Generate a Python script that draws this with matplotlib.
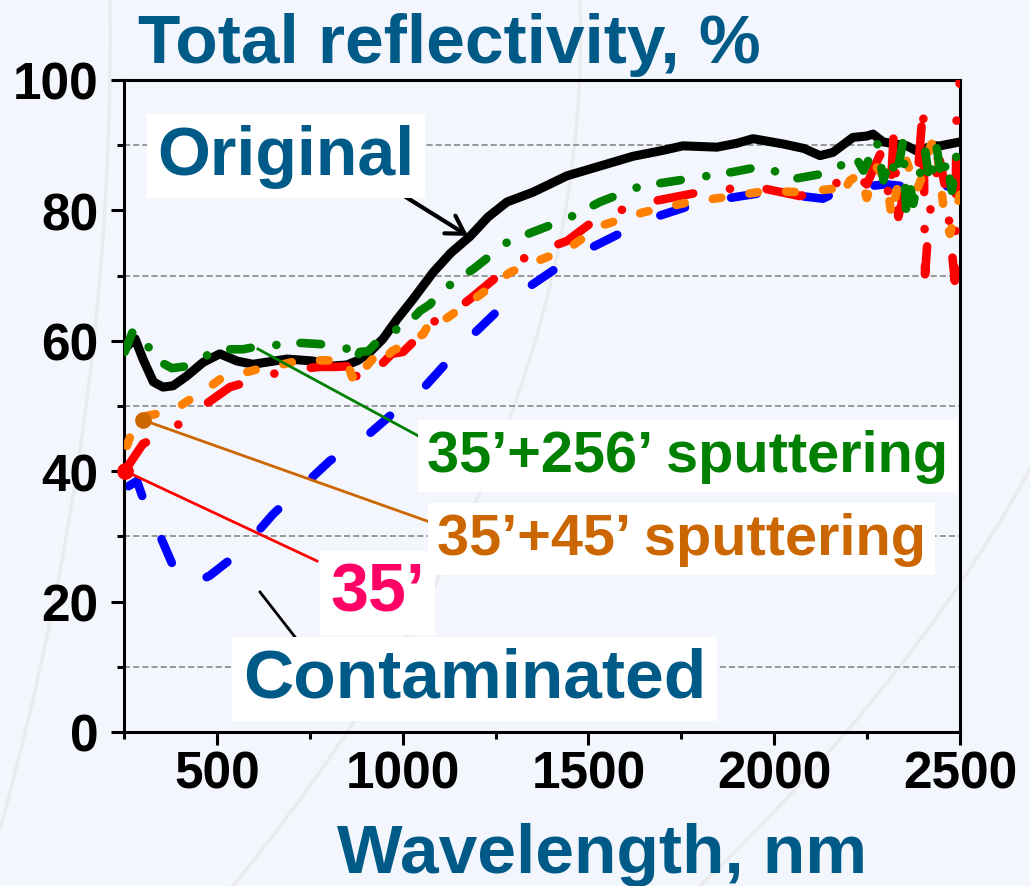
import numpy as np
import matplotlib
matplotlib.use('Agg')
import matplotlib.pyplot as plt
from matplotlib.ticker import MultipleLocator

# --- data ---
orig_x = [250, 265, 280, 301, 329, 355, 382, 419, 463, 508, 554, 597, 689, 759, 804, 850, 880,
          912, 947, 985, 1028, 1082, 1130, 1181, 1230, 1281, 1351, 1442, 1531, 1620, 1700, 1754,
          1846, 1900, 1943, 2023, 2080, 2123, 2158, 2212, 2249, 2266, 2293, 2357, 2384, 2427,
          2446, 2500]
orig_y = [58.7, 59.5, 60.3, 57.2, 53.7, 52.9, 53.1, 54.6, 56.7, 58.0, 56.9, 56.4, 57.2, 56.9,
          56.1, 56.3, 57.0, 58.3, 60.3, 63.3, 66.4, 70.5, 73.5, 76.0, 79.0, 81.3, 82.8, 85.3,
          86.8, 88.3, 89.2, 89.9, 89.7, 90.3, 91.0, 90.2, 89.5, 88.4, 88.9, 91.2, 91.4, 91.7,
          90.5, 89.9, 89.1, 89.9, 89.9, 90.5]

s256_x = [252, 274, 298, 333, 379, 419, 481, 525, 570, 616, 670, 716, 777, 813, 858, 872, 885,
          907, 939, 966, 998, 1020, 1047, 1074, 1100, 1190, 1281, 1351, 1442, 1531, 1639, 1765,
          1889, 1970, 2050, 2158, 2195, 2217, 2240, 2267, 2276, 2294, 2312, 2329, 2347, 2356,
          2365, 2374, 2392, 2406, 2419, 2437, 2451, 2464, 2478, 2491, 2500]
s256_y = [58.3, 61.5, 61.0, 57.2, 55.8, 56.1, 58.0, 58.7, 58.7, 59.2, 59.4, 59.7, 59.5, 59.2,
          58.7, 56.9, 58.3, 58.4, 60.3, 61.3, 62.1, 63.0, 64.6, 65.6, 67.5, 71.0, 75.1, 76.7,
          78.7, 81.3, 83.7, 84.8, 85.9, 86.8, 84.8, 85.9, 87.6, 88.4, 86.1, 89.2, 90.7, 84.6,
          88.1, 85.1, 90.7, 78.7, 84.0, 81.0, 85.6, 89.2, 84.1, 89.7, 84.6, 87.6, 83.0, 88.6,
          85.6]

s45_x = [258, 271, 298, 312, 339, 387, 422, 473, 508, 557, 594, 643, 678, 724, 772, 804, 850,
         864, 877, 893, 904, 931, 944, 971, 998, 1028, 1055, 1068, 1074, 1101, 1127, 1154, 1181,
         1289, 1351, 1442, 1531, 1647, 1765, 1889, 1980, 2069, 2158, 2177, 2204, 2231, 2249,
         2276, 2303, 2316, 2329, 2356, 2383, 2401, 2419, 2433, 2446, 2460, 2473, 2486, 2500]
s45_y = [43.9, 46.0, 47.9, 48.5, 48.8, 49.5, 50.8, 52.6, 54.1, 54.9, 55.4, 56.2, 56.4, 57.0,
         57.0, 57.0, 57.0, 54.4, 54.9, 57.2, 56.2, 58.0, 56.7, 58.4, 59.2, 60.3, 61.0, 62.3,
         63.3, 62.8, 63.8, 64.9, 65.9, 70.5, 72.0, 74.0, 77.6, 79.7, 81.2, 82.2, 83.0, 82.8,
         83.3, 81.9, 84.6, 85.6, 81.9, 86.6, 84.6, 78.9, 83.0, 87.6, 83.0, 85.6, 89.7, 91.2,
         85.1, 78.4, 76.4, 79.4, 82.4]

s35_x = [252, 261, 301, 374, 441, 535, 608, 678, 777, 823, 850, 864, 880, 893, 931, 971, 1001,
         1028, 1065, 1074, 1106, 1135, 1181, 1289, 1351, 1442, 1531, 1656, 1800, 1943, 2069,
         2158, 2204, 2249, 2285, 2312, 2321, 2334, 2356, 2370, 2388, 2401, 2406, 2415, 2428,
         2446, 2464, 2478, 2486, 2491, 2500]
s35_y = [40.0, 40.8, 44.2, 46.2, 49.1, 52.9, 54.1, 55.4, 56.0, 56.0, 56.1, 52.6, 55.4, 56.4,
         55.7, 58.0, 58.3, 59.8, 60.3, 62.8, 63.3, 64.4, 66.4, 71.5, 73.4, 75.3, 79.1, 81.2,
         82.8, 83.7, 82.2, 83.7, 86.1, 84.0, 88.6, 81.4, 91.2, 79.0, 84.1, 80.5, 86.6, 96.3,
         70.2, 77.3, 84.1, 87.6, 82.5, 73.8, 69.2, 94.8, 99.9]

cont_x = [262, 285, 302, 347, 382, 430, 481, 562, 651, 729, 804, 885, 966, 1041, 1127, 1190,
          1270, 1343, 1431, 1512, 1593, 1665, 1800, 1980, 2131, 2185, 2300, 2419, 2500]
cont_y = [37.7, 38.5, 35.7, 30.1, 25.5, 22.5, 24.0, 27.6, 33.4, 37.6, 41.6, 44.5, 48.5, 51.8,
          57.2, 61.0, 65.4, 68.4, 71.8, 74.4, 76.7, 78.7, 81.2, 82.8, 81.8, 83.3, 84.0, 83.3,
          84.0]

title_color = '#005a87'
font = ['Liberation Sans', 'DejaVu Sans']
plt.rcParams['font.family'] = font
plt.rcParams['font.weight'] = 'bold'

fig = plt.figure(figsize=(10.3, 8.87), dpi=100)
fig.patch.set_facecolor('#f3f6fc')

# faint decorative arcs of the slide background
bg = fig.add_axes([0, 0, 1, 1], zorder=-5)
bg.set_xlim(0, 1030)
bg.set_ylim(887, 0)
bg.axis('off')
for pts in ([(110, 0), (87, 400), (0, 830)],
            [(580, 0), (513, 410), (233, 887)],
            [(1030, 470), (900, 667), (700, 887)]):
    py = [p[1] for p in pts]
    px = [p[0] for p in pts]
    c = np.polyfit(py, px, 2)
    yy = np.linspace(min(py), max(py), 100)
    bg.plot(np.polyval(c, yy), yy, color='#e9ebef', lw=2.5)

ax = fig.add_axes([124 / 1030, 154 / 887, 836 / 1030, 652 / 887])
ax.set_facecolor('none')

lw = 6.2
ax.plot(cont_x, cont_y, color='#0000ff', lw=lw, dashes=(3.0, 5.5), dash_capstyle='round', zorder=2)
ax.plot(orig_x, orig_y, color='black', lw=lw + 0.3, solid_capstyle='round', solid_joinstyle='round', zorder=3)
ax.plot(s35_x, s35_y, color='#ff0000', lw=lw, dashes=(4.2, 4.3, 0.01, 4.3), dash_capstyle='round', zorder=4)
ax.plot(s45_x, s45_y, color='#ff8000', lw=lw, dashes=(1.0, 3.3), dash_capstyle='round', zorder=5)
ax.plot(s256_x, s256_y, color='#008000', lw=lw, dashes=(2.4, 3.0, 0.01, 2.8), dash_capstyle='round', zorder=6)

ax.set_xlim(250, 2500)
ax.set_ylim(0, 100)
ax.xaxis.set_major_locator(MultipleLocator(500))
ax.xaxis.set_minor_locator(MultipleLocator(250))
ax.yaxis.set_major_locator(MultipleLocator(20))
ax.yaxis.set_minor_locator(MultipleLocator(10))
ax.yaxis.grid(True, which='minor', linestyle=(0, (4, 2)), color='#7f7f7f', lw=1.1)
ax.set_axisbelow(True)

for s in ax.spines.values():
    s.set_linewidth(2.2)
ax.tick_params(which='major', direction='out', length=9.5, width=2.2, labelsize=37)
ax.tick_params(which='minor', direction='out', length=5, width=2.2)
ax.tick_params(axis='y', which='major', pad=9)
ax.tick_params(axis='x', which='major', pad=3)
for lab in ax.get_xticklabels() + ax.get_yticklabels():
    lab.set_fontweight('bold')

fig.text(138 / 1030, 1 - 63 / 887, 'Total reflectivity, %', color=title_color,
         fontsize=50, fontweight='bold', ha='left', va='baseline')
fig.text(602 / 1030, 1 - 873 / 887, 'Wavelength, nm', color=title_color,
         fontsize=50, fontweight='bold', ha='center', va='baseline')

box = dict(facecolor='white', edgecolor='none', boxstyle='square,pad=0.15')

# leader lines
ax.annotate('', xy=(1176, 76.1), xytext=(917, 85.3),
            arrowprops=dict(arrowstyle='->,head_length=0.5,head_width=0.3', color='black',
                            lw=3, mutation_scale=25, shrinkA=0, shrinkB=0), zorder=8)
ax.plot([610.6, 1057.4], [58.74, 44.94], color='#008000', lw=2, zorder=8)
ax.plot([301.1, 1065.5], [47.85, 32.36], color='#cc6600', lw=2, zorder=8)
ax.plot([301.1], [47.85], 'o', color='#cc6600', ms=11, zorder=8)
ax.plot([252.7, 769.4], [40.03, 26.23], color='#ff0000', lw=2, zorder=8, clip_on=False)
ax.plot([252.7], [40.03], 'o', color='#ff0000', ms=11, zorder=8, clip_on=False)
ax.plot([616.0, 729.1], [21.47, 13.19], color='black', lw=2, zorder=8)

ax.text(339, 85.6, 'Original', color=title_color, fontsize=49, fontweight='bold',
        ha='left', va='baseline', bbox=box, zorder=9)
ax.text(570, 5.37, 'Contaminated', color=title_color, fontsize=50, fontweight='bold',
        ha='left', va='baseline', bbox=box, zorder=9)
ax.text(1065.5, 40.03, '35\u2019+256\u2019 sputtering', color='#008000', fontsize=41.5,
        fontweight='bold', ha='left', va='baseline', bbox=box, zorder=9)
ax.text(1092.4, 27.3, '35\u2019+45\u2019 sputtering', color='#cc6600', fontsize=41.5,
        fontweight='bold', ha='left', va='baseline', bbox=box, zorder=9)
ax.text(804.4, 18.56, '35\u2019', color='#ff0066', fontsize=49, fontweight='bold',
        ha='left', va='baseline', bbox=box, zorder=9)

fig.savefig('out.png', dpi=100, facecolor=fig.get_facecolor())
